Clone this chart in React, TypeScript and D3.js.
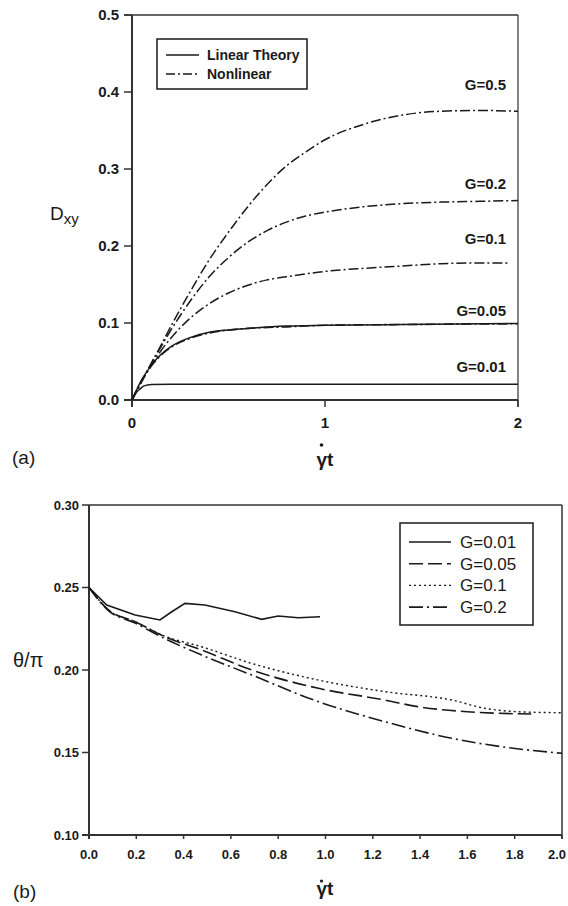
import React from "react";
import * as d3 from "d3";

// ---------- Panel (a) data ----------
const aXTicks = [0, 1, 2];
const aYTicks = [0.0, 0.1, 0.2, 0.3, 0.4, 0.5];
const aLegend = ["Linear Theory", "Nonlinear"];

const aT = [0, 0.05, 0.1, 0.15, 0.2, 0.3, 0.4, 0.5, 0.6, 0.7, 0.8, 0.9, 1.0, 1.2, 1.4, 1.6, 1.8, 2.0];
const aG05 = [0, 0.024, 0.048, 0.071, 0.095, 0.14, 0.182, 0.218, 0.251, 0.28, 0.304, 0.322, 0.338, 0.358, 0.37, 0.375, 0.376, 0.375];
const aG02 = [0, 0.024, 0.047, 0.069, 0.09, 0.128, 0.16, 0.185, 0.205, 0.22, 0.231, 0.239, 0.244, 0.251, 0.255, 0.257, 0.258, 0.259];
const aG01T = [0, 0.05, 0.1, 0.15, 0.2, 0.3, 0.4, 0.5, 0.6, 0.7, 0.8, 1.0, 1.2, 1.4, 1.6, 1.8, 1.96];
const aG01 = [0, 0.024, 0.045, 0.064, 0.08, 0.106, 0.125, 0.139, 0.149, 0.156, 0.16, 0.167, 0.171, 0.174, 0.177, 0.178, 0.178];
const aG005T = [0, 0.05, 0.1, 0.15, 0.2, 0.3, 0.4, 0.5, 0.6, 0.8, 1.0, 1.4, 2.0];
const aG005Lin = [0, 0.026, 0.045, 0.059, 0.069, 0.081, 0.088, 0.091, 0.093, 0.096, 0.097, 0.098, 0.0995];
const aG005Non = [0, 0.025, 0.044, 0.058, 0.068, 0.08, 0.087, 0.091, 0.093, 0.095, 0.097, 0.098, 0.099];
const aG001T = [0, 0.02, 0.04, 0.06, 0.08, 0.1, 0.2, 2.0];
const aG001Lin = [0, 0.009, 0.014, 0.018, 0.0195, 0.0202, 0.0205, 0.0205];
const aLabels = ["G=0.5", "G=0.2", "G=0.1", "G=0.05", "G=0.01"];
const aLabelVals = [0.409, 0.28, 0.209, 0.115, 0.043];

// ---------- Panel (b) data ----------
const bXTicks = [0, 0.2, 0.4, 0.6, 0.8, 1.0, 1.2, 1.4, 1.6, 1.8, 2.0];
const bYTicks = [0.1, 0.15, 0.2, 0.25, 0.3];
const bNames = ["G=0.01", "G=0.05", "G=0.1", "G=0.2"];

const bG001T = [0, 0.075, 0.195, 0.3, 0.35, 0.406, 0.49, 0.617, 0.73, 0.8, 0.885, 0.977];
const bG001 = [0.25, 0.2394, 0.2333, 0.2303, 0.2353, 0.2404, 0.2394, 0.2353, 0.2307, 0.2327, 0.2317, 0.2323];
const bG005T = [0, 0.082, 0.195, 0.321, 0.476, 0.688, 0.97, 1.25, 1.39, 1.6, 1.87];
const bG005 = [0.25, 0.2364, 0.2293, 0.2202, 0.2121, 0.2, 0.1889, 0.1818, 0.1778, 0.1747, 0.1733];
const bG01T = [0, 0.082, 0.195, 0.321, 0.476, 0.688, 0.97, 1.25, 1.534, 1.674, 1.815, 2.0];
const bG01 = [0.25, 0.2364, 0.2293, 0.2205, 0.2141, 0.204, 0.1939, 0.1869, 0.1818, 0.1768, 0.1747, 0.1741];
const bG02T = [0, 0.082, 0.195, 0.321, 0.476, 0.688, 0.97, 1.25, 1.534, 1.745, 2.0];
const bG02 = [0.25, 0.236, 0.2285, 0.219, 0.2091, 0.197, 0.1808, 0.1687, 0.1586, 0.1535, 0.1495];

const zip = (t: number[], v: number[]) => t.map((x, i) => [x, v[i]] as [number, number]);

const FONT = "'Liberation Sans', Arial, sans-serif";
const INK = "#1a1a1a";
const AX = "#333";

export default function App() {
  // Panel (a) scales
  const ax = d3.scaleLinear().domain([0, 2]).range([132, 518]);
  const ay = d3.scaleLinear().domain([0, 0.5]).range([400, 15]);
  const aLine = d3
    .line<[number, number]>()
    .x((d) => ax(d[0]))
    .y((d) => ay(d[1]))
    .curve(d3.curveMonotoneX);

  // Panel (b) scales
  const bx = d3.scaleLinear().domain([0, 2]).range([89, 562]);
  const by = d3.scaleLinear().domain([0.1, 0.3]).range([835, 505]);
  const bLineSmooth = d3
    .line<[number, number]>()
    .x((d) => bx(d[0]))
    .y((d) => by(d[1]))
    .curve(d3.curveMonotoneX);
  const bLineLin = d3
    .line<[number, number]>()
    .x((d) => bx(d[0]))
    .y((d) => by(d[1]));

  const dashDotA = "10,3,2,3";
  const bStyles = [
    { dash: "none", w: 1.6 },
    { dash: "14,5", w: 1.6 },
    { dash: "2,3", w: 1.4 },
    { dash: "14,4,2,4", w: 1.6 },
  ];
  const bData = [
    { d: zip(bG001T, bG001), gen: bLineLin },
    { d: zip(bG005T, bG005), gen: bLineSmooth },
    { d: zip(bG01T, bG01), gen: bLineSmooth },
    { d: zip(bG02T, bG02), gen: bLineSmooth },
  ];

  return (
    <svg
      width={568}
      height={906}
      style={{ position: "absolute", left: 0, top: 0, background: "#fff" }}
      fontFamily={FONT}
    >
      {/* ================= Panel (a) ================= */}
      <g>
        <line x1={124} x2={518} y1={ay(0.5)} y2={ay(0.5)} stroke={AX} strokeWidth={1.5} />
        <line x1={518} x2={518} y1={ay(0.5)} y2={407} stroke={AX} strokeWidth={1.2} />
        <line x1={132} x2={132} y1={ay(0.5)} y2={407} stroke={AX} strokeWidth={2} />
        <line x1={124} x2={518} y1={ay(0)} y2={ay(0)} stroke={AX} strokeWidth={2} />
        {aYTicks.map((v) => (
          <g key={"ay" + v}>
            <line x1={124} x2={132} y1={ay(v)} y2={ay(v)} stroke={AX} strokeWidth={1.5} />
            <text x={119} y={ay(v) + 5} textAnchor="end" fontSize={15} fontWeight="bold" fill={INK}>
              {v.toFixed(1)}
            </text>
          </g>
        ))}
        {aXTicks.map((v) => (
          <g key={"ax" + v}>
            <line x1={ax(v)} x2={ax(v)} y1={400} y2={407} stroke={AX} strokeWidth={1.5} />
            <text x={ax(v)} y={428} textAnchor="middle" fontSize={15} fontWeight="bold" fill={INK}>
              {v}
            </text>
          </g>
        ))}
        <path d={aLine(zip(aG001T, aG001Lin)) || ""} fill="none" stroke={INK} strokeWidth={1.5} />
        <path d={aLine(zip(aG005T, aG005Lin)) || ""} fill="none" stroke={INK} strokeWidth={1.5} />
        <path d={aLine(zip(aG005T, aG005Non)) || ""} fill="none" stroke={INK} strokeWidth={1.6} strokeDasharray={dashDotA} />
        <path d={aLine(zip(aG01T, aG01)) || ""} fill="none" stroke={INK} strokeWidth={1.5} strokeDasharray={dashDotA} />
        <path d={aLine(zip(aT, aG02)) || ""} fill="none" stroke={INK} strokeWidth={1.5} strokeDasharray={dashDotA} />
        <path d={aLine(zip(aT, aG05)) || ""} fill="none" stroke={INK} strokeWidth={1.5} strokeDasharray={dashDotA} />
        {aLabels.map((l, i) => (
          <text key={l} x={506} y={ay(aLabelVals[i]) + 5} textAnchor="end" fontSize={15} fontWeight="bold" fill={INK}>
            {l}
          </text>
        ))}
        <rect x={157} y={39} width={150} height={50} fill="#fff" stroke={INK} strokeWidth={1.5} />
        <line x1={166} x2={199} y1={55} y2={55} stroke={INK} strokeWidth={1.5} />
        <line x1={166} x2={199} y1={74} y2={74} stroke={INK} strokeWidth={1.5} strokeDasharray="9,3,2,3" />
        <text x={207} y={60} fontSize={14} fontWeight="bold" fill={INK}>{aLegend[0]}</text>
        <text x={207} y={79} fontSize={14} fontWeight="bold" fill={INK}>{aLegend[1]}</text>
        <text x={50} y={220} fontSize={19} fill={INK}>
          D<tspan fontSize={15} dy={4}>xy</tspan>
        </text>
        <text x={325} y={466} textAnchor="middle" fontSize={19} fontWeight="bold" fill={INK}>γt</text>
        <circle cx={321.5} cy={445} r={1.8} fill={INK} />
        <text x={12} y={464} fontSize={19} fill={INK}>(a)</text>
      </g>

      {/* ================= Panel (b) ================= */}
      <g>
        <line x1={89} x2={562} y1={by(0.3)} y2={by(0.3)} stroke={AX} strokeWidth={1.5} />
        <line x1={562} x2={562} y1={by(0.3)} y2={839} stroke={AX} strokeWidth={1.5} />
        <line x1={89} x2={89} y1={by(0.3)} y2={839} stroke={AX} strokeWidth={2} />
        <line x1={82} x2={562} y1={by(0.1)} y2={by(0.1)} stroke={AX} strokeWidth={2} />
        {bYTicks.map((v) => (
          <g key={"by" + v}>
            <line x1={82} x2={89} y1={by(v)} y2={by(v)} stroke={AX} strokeWidth={1.5} />
            <text x={79} y={by(v) + 4.5} textAnchor="end" fontSize={13} fontWeight="bold" fill={INK}>
              {v.toFixed(2)}
            </text>
          </g>
        ))}
        {bXTicks.map((v) => (
          <g key={"bx" + v}>
            <line x1={bx(v)} x2={bx(v)} y1={835} y2={839} stroke={AX} strokeWidth={1.5} />
            <text
              x={Math.min(bx(v), 557)}
              y={859}
              textAnchor="middle"
              fontSize={13}
              fontWeight="bold"
              fill={INK}
            >
              {v.toFixed(1)}
            </text>
          </g>
        ))}
        {bData.map((s, i) => (
          <path
            key={"bs" + i}
            d={s.gen(s.d) || ""}
            fill="none"
            stroke={INK}
            strokeWidth={bStyles[i].w}
            strokeDasharray={bStyles[i].dash}
          />
        ))}
        <rect x={400} y={523} width={133} height={102} fill="#fff" stroke={INK} strokeWidth={1.5} />
        {bNames.map((n, i) => {
          const yy = 542 + i * 21.7;
          return (
            <g key={n}>
              <line x1={409} x2={451} y1={yy} y2={yy} stroke={INK} strokeWidth={bStyles[i].w} strokeDasharray={bStyles[i].dash} />
              <text x={460} y={yy + 6} fontSize={17} fill={INK}>{n}</text>
            </g>
          );
        })}
        <text x={13} y={667} fontSize={20} fill={INK}>θ/π</text>
        <text x={325} y={895} textAnchor="middle" fontSize={19} fontWeight="bold" fill={INK}>γt</text>
        <circle cx={321.5} cy={881} r={1.6} fill={INK} />
        <text x={13} y={898} fontSize={19} fill={INK}>(b)</text>
      </g>
    </svg>
  );
}
